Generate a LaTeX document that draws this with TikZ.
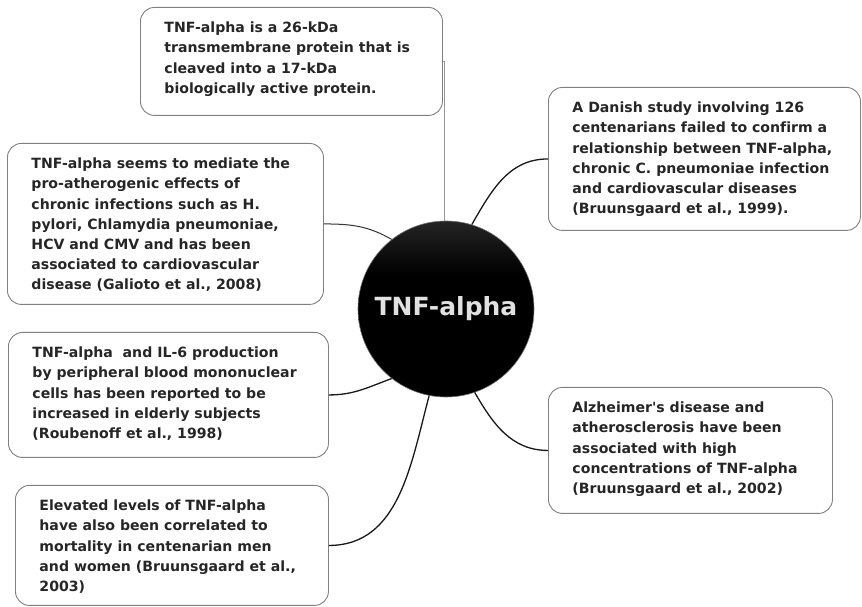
\documentclass[tikz,border=0pt]{standalone}
\usepackage{fontspec}
\setmainfont[Ligatures={TeX,NoCommon}]{DejaVu Sans}
\definecolor{boxline}{RGB}{128,128,128}
\definecolor{textdark}{RGB}{38,38,38}
\definecolor{linkgray}{RGB}{150,150,150}
\definecolor{hubtext}{RGB}{225,225,225}
\usepackage{tikz}
\usetikzlibrary{
	positioning,
	calc
}
\pgfdeclareverticalshading{hubshade}{100bp}{color(0bp)=(black); color(60bp)=(black); color(100bp)=(black!62)}
\newcommand{\notetext}[3]{\parbox[t][#2pt][t]{#1pt}{\raggedright #3}}
\tikzset{
  % box
	notebox/.style   ={draw=boxline, fill=white, rounded corners=14pt, line width=0.9pt,
	                   anchor=north west, inner xsep=24pt, inner ysep=14.5pt, text=textdark,
	                   font=\fontsize{14.1}{20.2}\selectfont\bfseries},
  % centre
	hubnode/.style   ={circle, minimum size=176pt, inner sep=0pt, shading=hubshade,
	                   draw=black!55, line width=0.6pt, text=hubtext,
	                   font=\fontsize{25}{30}\selectfont\bfseries},
  % links
	link/.style      ={line width=1.3pt, black!90},
	linkthin/.style  ={line width=1pt, linkgray}
}
\begin{document}
\begin{tikzpicture}[x=1pt,y=1pt]
	\useasboundingbox (0,0) rectangle (862,607);
	\node[hubnode] (hub) at (446,298) {TNF-alpha};
	\node[notebox] (t1) at (140,600) {\notetext{254}{79}{TNF-alpha is a 26-kDa\\ transmembrane protein that is\\ cleaved into a 17-kDa\\ biologically active protein.}};
	\node[notebox] (t2) at (7,464) {\notetext{268}{132}{TNF-alpha seems to mediate the\\ pro-atherogenic effects of\\ chronic infections such as H.\\ pylori, Chlamydia pneumoniae,\\ HCV and CMV and has been\\ associated to cardiovascular\\ disease (Galioto et al., 2008)}};
	\node[notebox] (t3) at (548,520) {\notetext{264}{114}{A Danish study involving 126\\ centenarians failed to confirm a\\ relationship between TNF-alpha,\\ chronic C. pneumoniae infection\\ and cardiovascular diseases\\ (Bruunsgaard et al., 1999).}};
	\node[notebox] (t4) at (8,275) {\notetext{272}{96}{TNF-alpha\ \ and IL-6 production\\ by peripheral blood mononuclear\\ cells has been reported to be\\ increased in elderly subjects\\ (Roubenoff et al., 1998)}};
	\node[notebox] (t5) at (15,122) {\notetext{265}{91}{Elevated levels of TNF-alpha\\ have also been correlated to\\ mortality in centenarian men\\ and women (Bruunsgaard et al.,\\ 2003)}};
	\node[notebox] (t6) at (548,220) {\notetext{236}{97}{Alzheimer\textquotesingle s disease and\\ atherosclerosis have been\\ associated with high\\ concentrations of TNF-alpha\\ (Bruunsgaard et al., 2002)}};
	% links
	\draw[linkthin] (t1.east) -| ($(hub.north)+(-2,0)$);
	\draw[linkthin,black!80] (t2.east) to[out=0,in=150] (hub.128);
	\draw[link] (hub.73) to[out=60,in=180] (t3.west);
	\draw[link] (hub.232) to[out=200,in=0] (t4.east);
	\draw[link] (hub.259) to[out=255,in=0] (t5.east);
	\draw[link] (hub.289) to[out=300,in=180] (t6.west);
\end{tikzpicture}
\end{document}
